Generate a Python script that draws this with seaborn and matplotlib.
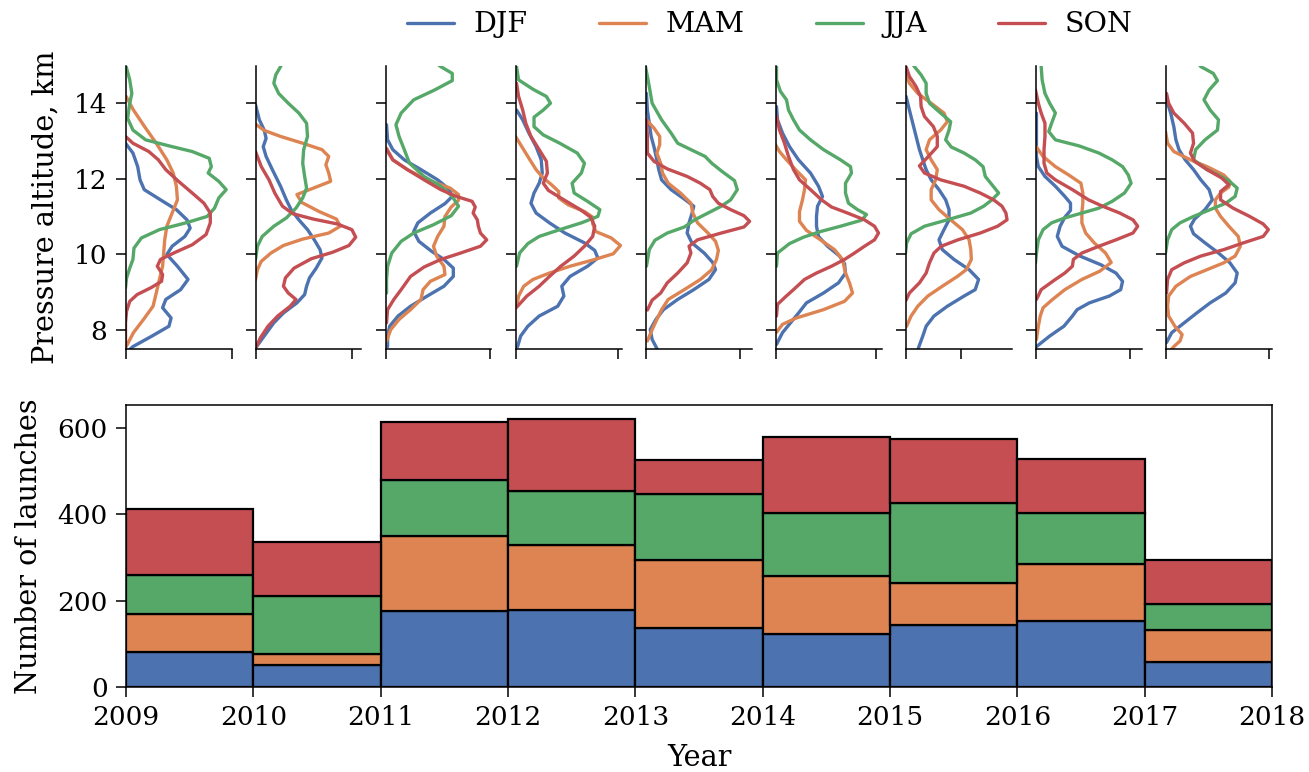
import numpy as np
import pandas as pd
import matplotlib
matplotlib.use("Agg")
import matplotlib.pyplot as plt
import seaborn as sns

# ---------------- data ----------------
seasons = ["DJF", "MAM", "JJA", "SON"]
years = [2009, 2010, 2011, 2012, 2013, 2014, 2015, 2016, 2017]
year_ticks = [2009, 2010, 2011, 2012, 2013, 2014, 2015, 2016, 2017, 2018]

launches_DJF = [81, 52, 176, 178, 137, 123, 143, 153, 58]
launches_MAM = [87, 25, 174, 151, 156, 133, 97, 132, 74]
launches_JJA = [91, 134, 130, 124, 154, 147, 187, 118, 60]
launches_SON = [154, 124, 134, 168, 78, 177, 147, 124, 102]

# KDE curves: (pressure altitude km, density)
kde_2009_DJF = [(12.94,0.0),(12.68,0.07),(12.32,0.115),(11.97,0.137),(11.71,0.177),(11.44,0.33),(11.18,0.48),(10.91,0.58),(10.69,0.61),(10.47,0.56),(10.21,0.44),(9.99,0.39),(9.68,0.49),(9.33,0.59),(9.06,0.52),(8.80,0.38),(8.58,0.35),(8.31,0.43),(8.09,0.41),(7.83,0.25),(7.55,0.07),(7.45,0.03)]
kde_2009_MAM = [(14.18,0.006),(13.82,0.075),(13.38,0.18),(12.94,0.29),(12.50,0.39),(12.15,0.45),(11.80,0.48),(11.44,0.49),(11.09,0.44),(10.74,0.39),(10.38,0.37),(10.03,0.36),(9.68,0.35),(9.33,0.32),(8.97,0.29),(8.62,0.26),(8.27,0.17),(7.92,0.075),(7.55,0.006)]
kde_2009_JJA = [(15.1,0.0),(14.97,0.006),(14.62,0.04),(14.26,0.06),(14.0,0.04),(13.6,0.02),(13.29,0.07),(13.03,0.19),(12.87,0.41),(12.72,0.63),(12.54,0.79),(12.32,0.81),(12.15,0.78),(11.93,0.88),(11.71,0.95),(11.49,0.88),(11.22,0.84),(11.0,0.77),(10.83,0.57),(10.65,0.32),(10.43,0.15),(10.16,0.08),(9.86,0.07),(9.63,0.04),(9.37,0.01),(9.11,0.0)]
kde_2009_SON = [(13.12,0.0),(12.94,0.07),(12.72,0.22),(12.50,0.31),(12.24,0.38),(11.93,0.50),(11.62,0.63),(11.35,0.74),(11.09,0.80),(10.83,0.80),(10.52,0.76),(10.25,0.63),(10.05,0.47),(9.86,0.33),(9.68,0.30),(9.46,0.35),(9.28,0.34),(9.11,0.24),(8.93,0.11),(8.75,0.04),(8.49,0.01),(8.18,0.0),(7.4,0.0)]

kde_2010_DJF = [(13.96,0.0),(13.56,0.04),(13.29,0.09),(13.07,0.11),(12.85,0.08),(12.59,0.11),(12.24,0.175),(11.80,0.26),(11.44,0.32),(11.18,0.37),(10.91,0.45),(10.65,0.54),(10.38,0.61),(10.12,0.67),(9.90,0.69),(9.63,0.63),(9.37,0.56),(9.15,0.53),(8.93,0.51),(8.71,0.43),(8.44,0.29),(8.18,0.19),(7.83,0.09),(7.55,0.01)]
kde_2010_MAM = [(13.43,0.01),(13.28,0.09),(13.12,0.26),(12.94,0.49),(12.77,0.69),(12.59,0.76),(12.37,0.73),(12.15,0.76),(11.93,0.78),(11.75,0.60),(11.58,0.43),(11.37,0.48),(11.13,0.66),(10.93,0.84),(10.74,0.88),(10.56,0.76),(10.40,0.49),(10.23,0.29),(10.03,0.16),(9.81,0.06),(9.59,0.02),(9.33,0.0)]
kde_2010_JJA = [(15.1,0.28),(14.97,0.26),(14.75,0.21),(14.53,0.19),(14.26,0.24),(14.0,0.34),(13.74,0.45),(13.47,0.53),(13.12,0.54),(12.77,0.50),(12.41,0.49),(12.06,0.51),(11.75,0.53),(11.49,0.49),(11.22,0.42),(10.96,0.32),(10.74,0.19),(10.47,0.07),(10.21,0.02),(9.86,0.0)]
kde_2010_SON = [(12.72,0.0),(12.32,0.06),(11.97,0.14),(11.62,0.20),(11.27,0.28),(11.07,0.39),(10.93,0.60),(10.80,0.85),(10.65,1.00),(10.45,1.04),(10.23,0.97),(10.05,0.80),(9.88,0.58),(9.63,0.40),(9.37,0.31),(9.15,0.29),(8.97,0.34),(8.80,0.42),(8.62,0.36),(8.36,0.23),(8.09,0.13),(7.78,0.05),(7.55,0.01)]

kde_2011_DJF = [(13.43,0.01),(13.03,0.02),(12.77,0.07),(12.50,0.18),(12.24,0.34),(11.97,0.50),(11.72,0.61),(11.53,0.64),(11.34,0.57),(11.09,0.43),(10.83,0.31),(10.60,0.27),(10.34,0.32),(10.08,0.44),(9.86,0.56),(9.63,0.65),(9.41,0.65),(9.15,0.56),(8.89,0.40),(8.62,0.24),(8.36,0.12),(8.09,0.04),(7.83,0.02),(7.55,0.02)]
kde_2011_MAM = [(12.81,0.01),(12.50,0.07),(12.24,0.21),(11.97,0.40),(11.75,0.62),(11.58,0.70),(11.43,0.70),(11.25,0.63),(11.0,0.57),(10.74,0.56),(10.47,0.50),(10.21,0.46),(9.95,0.49),(9.68,0.56),(9.46,0.57),(9.28,0.43),(9.06,0.36),(8.80,0.34),(8.53,0.24),(8.27,0.13),(8.0,0.05),(7.70,0.01)]
kde_2011_JJA = [(15.1,0.47),(14.97,0.53),(14.79,0.64),(14.60,0.64),(14.35,0.47),(14.09,0.27),(13.74,0.15),(13.43,0.10),(13.12,0.13),(12.77,0.18),(12.41,0.23),(12.06,0.37),(11.80,0.53),(11.53,0.64),(11.27,0.70),(11.02,0.63),(10.78,0.46),(10.56,0.27),(10.34,0.15),(10.03,0.06),(9.68,0.02),(9.33,0.01),(8.97,0.01)]
kde_2011_SON = [(12.77,0.01),(12.50,0.07),(12.24,0.21),(11.97,0.37),(11.71,0.53),(11.53,0.68),(11.40,0.83),(11.25,0.86),(11.09,0.84),(10.91,0.88),(10.74,0.89),(10.56,0.91),(10.38,0.97),(10.21,0.91),(10.03,0.72),(9.86,0.53),(9.66,0.37),(9.41,0.24),(9.06,0.15),(8.80,0.08),(8.53,0.02),(8.18,0.01)]

kde_2012_DJF = [(13.82,0.01),(13.56,0.07),(13.21,0.13),(12.85,0.20),(12.50,0.25),(12.15,0.26),(11.88,0.23),(11.62,0.18),(11.35,0.15),(11.09,0.20),(10.83,0.33),(10.56,0.48),(10.30,0.67),(10.10,0.77),(9.90,0.80),(9.68,0.70),(9.41,0.53),(9.15,0.45),(8.89,0.47),(8.62,0.41),(8.36,0.23),(8.09,0.12),(7.83,0.05),(7.55,0.02)]
kde_2012_MAM = [(13.12,0.0),(12.81,0.07),(12.50,0.14),(12.24,0.20),(12.02,0.27),(11.84,0.35),(11.66,0.42),(11.49,0.42),(11.31,0.51),(11.13,0.67),(10.98,0.75),(10.81,0.75),(10.60,0.78),(10.43,0.93),(10.23,1.02),(10.01,0.95),(9.86,0.77),(9.68,0.53),(9.50,0.33),(9.33,0.17),(9.15,0.08),(8.89,0.03),(8.58,0.01)]
kde_2012_JJA = [(15.1,0.0),(14.97,0.01),(14.62,0.03),(14.37,0.17),(14.18,0.30),(14.0,0.34),(13.82,0.27),(13.63,0.18),(13.38,0.18),(13.16,0.27),(12.94,0.43),(12.68,0.60),(12.41,0.67),(12.15,0.64),(11.88,0.55),(11.62,0.57),(11.40,0.70),(11.18,0.82),(11.0,0.80),(10.83,0.64),(10.65,0.43),(10.47,0.23),(10.28,0.12),(10.03,0.04),(9.68,0.01)]
kde_2012_SON = [(14.53,0.01),(14.18,0.03),(13.82,0.07),(13.47,0.10),(13.12,0.15),(12.77,0.23),(12.46,0.30),(12.15,0.31),(11.88,0.27),(11.69,0.32),(11.44,0.47),(11.18,0.63),(10.98,0.73),(10.74,0.77),(10.47,0.75),(10.21,0.67),(9.95,0.57),(9.68,0.44),(9.41,0.33),(9.15,0.23),(8.89,0.11),(8.62,0.02)]

kde_2013_DJF = [(14.26,0.01),(13.82,0.02),(13.47,0.04),(13.12,0.06),(12.84,0.09),(12.50,0.12),(12.24,0.14),(11.97,0.17),(11.71,0.27),(11.46,0.41),(11.27,0.51),(11.07,0.49),(10.83,0.46),(10.56,0.44),(10.30,0.49),(10.03,0.62),(9.78,0.71),(9.59,0.74),(9.33,0.67),(9.06,0.51),(8.80,0.34),(8.53,0.19),(8.27,0.11),(8.0,0.05),(7.74,0.07),(7.55,0.11),(7.45,0.13)]
kde_2013_MAM = [(13.56,0.01),(13.34,0.09),(13.12,0.15),(12.90,0.15),(12.68,0.12),(12.41,0.16),(12.15,0.18),(11.88,0.24),(11.62,0.37),(11.35,0.48),(11.09,0.50),(10.83,0.55),(10.56,0.66),(10.34,0.74),(10.10,0.77),(9.86,0.75),(9.59,0.70),(9.33,0.58),(9.06,0.41),(8.80,0.24),(8.53,0.17),(8.27,0.12),(8.0,0.07),(7.70,0.02)]
kde_2013_JJA = [(15.1,0.0),(14.97,0.0),(14.44,0.04),(14.0,0.07),(13.56,0.17),(13.21,0.27),(12.94,0.34),(12.77,0.48),(12.59,0.63),(12.41,0.70),(12.19,0.81),(11.95,0.94),(11.71,0.97),(11.44,0.90),(11.27,0.80),(11.09,0.66),(10.91,0.52),(10.72,0.41),(10.56,0.23),(10.37,0.10),(10.12,0.04),(9.68,0.01)]
kde_2013_SON = [(13.56,0.01),(13.12,0.02),(12.68,0.02),(12.46,0.09),(12.26,0.23),(12.06,0.44),(11.88,0.58),(11.71,0.68),(11.53,0.71),(11.35,0.77),(11.18,0.90),(11.02,1.04),(10.87,1.10),(10.72,1.04),(10.56,0.80),(10.38,0.55),(10.21,0.46),(10.03,0.48),(9.77,0.44),(9.50,0.34),(9.24,0.23),(8.97,0.16),(8.78,0.07),(8.52,0.02)]

kde_2014_DJF = [(13.91,0.01),(13.56,0.02),(13.21,0.07),(12.85,0.14),(12.50,0.23),(12.15,0.35),(11.80,0.43),(11.53,0.47),(11.27,0.42),(11.0,0.41),(10.74,0.41),(10.47,0.43),(10.21,0.52),(9.95,0.64),(9.75,0.69),(9.50,0.70),(9.24,0.63),(8.97,0.48),(8.71,0.31),(8.44,0.23),(8.18,0.15),(7.92,0.07),(7.61,0.01)]
kde_2014_MAM = [(12.90,0.0),(12.72,0.04),(12.50,0.11),(12.24,0.20),(11.97,0.30),(11.71,0.29),(11.44,0.27),(11.13,0.24),(10.87,0.24),(10.63,0.31),(10.38,0.45),(10.12,0.59),(9.86,0.67),(9.50,0.70),(9.24,0.74),(8.97,0.77),(8.75,0.69),(8.53,0.48),(8.31,0.21),(8.14,0.07),(7.93,0.01)]
kde_2014_JJA = [(15.1,0.01),(14.97,0.01),(14.62,0.01),(14.31,0.05),(14.09,0.11),(13.82,0.13),(13.56,0.18),(13.29,0.24),(13.03,0.35),(12.77,0.48),(12.50,0.65),(12.32,0.75),(12.15,0.76),(11.88,0.70),(11.62,0.70),(11.35,0.73),(11.18,0.82),(11.05,0.91),(10.90,0.86),(10.74,0.65),(10.60,0.45),(10.45,0.28),(10.28,0.14),(10.03,0.02),(9.68,0.01)]
kde_2014_SON = [(13.65,0.01),(13.29,0.04),(12.94,0.09),(12.59,0.13),(12.24,0.18),(11.97,0.24),(11.71,0.35),(11.44,0.46),(11.25,0.56),(11.09,0.72),(10.91,0.89),(10.74,0.99),(10.56,1.03),(10.38,0.99),(10.21,0.89),(10.03,0.79),(9.86,0.69),(9.68,0.56),(9.50,0.41),(9.33,0.29),(9.06,0.18),(8.87,0.10),(8.67,0.02),(8.36,0.01)]

kde_2015_DJF = [(14.18,0.01),(13.82,0.07),(13.47,0.13),(13.12,0.19),(12.77,0.25),(12.50,0.31),(12.24,0.37),(11.97,0.46),(11.71,0.60),(11.44,0.72),(11.18,0.78),(10.91,0.78),(10.65,0.69),(10.38,0.60),(10.12,0.66),(9.86,0.87),(9.59,1.14),(9.33,1.31),(9.06,1.25),(8.89,1.05),(8.62,0.75),(8.36,0.51),(8.09,0.37),(7.83,0.31),(7.55,0.24),(7.45,0.22)]
kde_2015_MAM = [(14.79,0.01),(14.53,0.07),(14.26,0.22),(14.0,0.46),(13.74,0.69),(13.51,0.75),(13.29,0.63),(13.03,0.43),(12.77,0.37),(12.50,0.46),(12.24,0.57),(11.97,0.54),(11.71,0.46),(11.44,0.46),(11.18,0.60),(10.91,0.81),(10.65,1.02),(10.38,1.14),(10.12,1.17),(9.86,1.18),(9.59,1.09),(9.41,0.93),(9.15,0.66),(8.89,0.40),(8.62,0.22),(8.36,0.10),(8.09,0.02)]
kde_2015_JJA = [(15.1,0.10),(14.97,0.16),(14.75,0.28),(14.53,0.37),(14.26,0.37),(14.0,0.43),(13.74,0.63),(13.51,0.81),(13.29,0.78),(13.03,0.72),(12.84,0.82),(12.68,1.05),(12.50,1.25),(12.32,1.39),(12.06,1.43),(11.84,1.55),(11.62,1.67),(11.44,1.55),(11.27,1.40),(11.09,1.17),(10.91,0.75),(10.74,0.34),(10.54,0.10),(10.30,0.02),(10.03,0.0)]
kde_2015_SON = [(15.1,0.0),(14.97,0.01),(14.71,0.07),(14.44,0.19),(14.18,0.27),(13.91,0.28),(13.65,0.34),(13.38,0.50),(13.12,0.57),(12.85,0.57),(12.59,0.41),(12.34,0.25),(12.15,0.34),(11.97,0.63),(11.80,1.05),(11.62,1.34),(11.44,1.58),(11.27,1.73),(11.09,1.80),(10.91,1.82),(10.74,1.65),(10.56,1.34),(10.38,0.94),(10.21,0.64),(10.03,0.51),(9.77,0.43),(9.50,0.37),(9.24,0.25),(8.97,0.07),(8.78,0.01)]

kde_2016_DJF = [(13.74,0.01),(13.21,0.01),(12.59,0.01),(12.32,0.03),(12.06,0.10),(11.80,0.21),(11.53,0.31),(11.35,0.37),(11.16,0.37),(10.98,0.31),(10.74,0.26),(10.47,0.23),(10.21,0.28),(9.96,0.46),(9.72,0.69),(9.50,0.85),(9.28,0.92),(9.06,0.90),(8.89,0.78),(8.71,0.57),(8.53,0.44),(8.36,0.39),(8.09,0.30),(7.83,0.15),(7.55,0.01)]
kde_2016_MAM = [(12.84,0.01),(12.59,0.08),(12.32,0.21),(12.10,0.35),(11.88,0.48),(11.62,0.50),(11.35,0.50),(11.09,0.49),(10.83,0.49),(10.56,0.53),(10.30,0.62),(10.03,0.74),(9.78,0.80),(9.55,0.68),(9.33,0.49),(9.06,0.31),(8.80,0.18),(8.58,0.08),(8.36,0.05),(8.09,0.03),(7.74,0.01)]
kde_2016_JJA = [(15.1,0.06),(14.97,0.06),(14.62,0.07),(14.26,0.10),(14.0,0.15),(13.74,0.21),(13.47,0.17),(13.25,0.14),(13.03,0.21),(12.87,0.46),(12.68,0.67),(12.50,0.81),(12.32,0.92),(12.10,0.98),(11.88,1.01),(11.62,0.94),(11.40,0.81),(11.22,0.67),(11.09,0.49),(10.96,0.31),(10.83,0.17),(10.65,0.08),(10.38,0.03),(10.03,0.01),(9.77,0.0)]
kde_2016_SON = [(14.35,0.0),(14.0,0.03),(13.74,0.06),(13.47,0.10),(13.12,0.10),(12.77,0.09),(12.41,0.09),(12.15,0.12),(11.97,0.21),(11.71,0.39),(11.44,0.56),(11.27,0.71),(11.09,0.89),(10.91,1.03),(10.74,1.08),(10.56,1.03),(10.38,0.85),(10.21,0.67),(10.03,0.49),(9.86,0.40),(9.68,0.39),(9.50,0.31),(9.33,0.21),(9.06,0.06),(8.80,0.01)]

kde_2017_DJF = [(14.09,0.01),(13.74,0.05),(13.38,0.08),(13.03,0.10),(12.77,0.13),(12.50,0.19),(12.24,0.27),(11.97,0.34),(11.71,0.42),(11.44,0.45),(11.18,0.38),(10.93,0.28),(10.74,0.24),(10.54,0.27),(10.30,0.38),(10.03,0.51),(9.77,0.62),(9.50,0.69),(9.24,0.67),(8.97,0.58),(8.71,0.43),(8.44,0.30),(8.18,0.18),(7.92,0.06),(7.66,0.01)]
kde_2017_MAM = [(13.25,0.0),(12.94,0.02),(12.72,0.08),(12.50,0.24),(12.32,0.40),(12.10,0.56),(11.93,0.62),(11.78,0.61),(11.62,0.53),(11.44,0.48),(11.22,0.48),(11.0,0.53),(10.74,0.61),(10.47,0.70),(10.21,0.72),(9.95,0.67),(9.77,0.56),(9.59,0.40),(9.41,0.24),(9.15,0.10),(8.89,0.03),(8.62,0.02),(8.36,0.03),(8.09,0.09),(7.87,0.16),(7.70,0.14),(7.55,0.08),(7.45,0.05)]
kde_2017_JJA = [(15.1,0.30),(14.97,0.34),(14.79,0.46),(14.60,0.50),(14.35,0.42),(14.09,0.37),(13.82,0.43),(13.56,0.51),(13.29,0.50),(13.03,0.38),(12.77,0.29),(12.50,0.27),(12.24,0.40),(11.97,0.60),(11.75,0.69),(11.53,0.67),(11.35,0.58),(11.18,0.43),(11.0,0.27),(10.83,0.14),(10.65,0.06),(10.38,0.02),(10.03,0.0)]
kde_2017_SON = [(14.26,0.01),(14.0,0.03),(13.74,0.08),(13.47,0.18),(13.21,0.26),(12.94,0.27),(12.68,0.24),(12.46,0.28),(12.24,0.40),(12.02,0.54),(11.84,0.61),(11.66,0.53),(11.44,0.53),(11.22,0.65),(11.0,0.81),(10.80,0.94),(10.65,0.99),(10.47,0.94),(10.30,0.75),(10.12,0.56),(9.95,0.34),(9.77,0.18),(9.59,0.06),(9.33,0.02),(8.97,0.01)]

# per-panel density axis extent
density_xmax = [1.0, 1.10, 1.016, 1.03, 1.12, 1.06, 1.9, 1.12, 1.02]

# ---------------- tables ----------------
g = globals()
kde_rows = []
for yr in years:
    for s in seasons:
        for k, (alt, den) in enumerate(g[f"kde_{yr}_{s}"]):
            kde_rows.append({"year": yr, "season": s, "alt": alt, "density": den, "k": k})
kde_df = pd.DataFrame(kde_rows)

launch_counts = {"DJF": launches_DJF, "MAM": launches_MAM, "JJA": launches_JJA, "SON": launches_SON}
bar_rows = []
for s in seasons:
    for yr, c in zip(years, launch_counts[s]):
        bar_rows.append({"year": yr, "season": s, "count": c})
bar_df = pd.DataFrame(bar_rows)

# ---------------- style ----------------
sns.set_theme(style="ticks", palette="deep")
plt.rcParams["font.family"] = ["DejaVu Serif"]
tick_fs = 19
label_fs = 20.7
plt.rcParams.update({
    "font.size": label_fs, "axes.labelsize": label_fs,
    "xtick.labelsize": tick_fs, "ytick.labelsize": tick_fs,
    "legend.fontsize": 20.5, "axes.linewidth": 1.1,
    "xtick.major.width": 1.1, "ytick.major.width": 1.1,
    "xtick.major.size": 7, "ytick.major.size": 7,
    "xtick.major.pad": 6, "ytick.major.pad": 6,
    "axes.edgecolor": "black", "xtick.color": "black", "ytick.color": "black",
    "text.color": "black", "axes.labelcolor": "black",
})
palette = dict(zip(seasons, sns.color_palette("deep", 4)))

W, H = 1309, 772
fig = plt.figure(figsize=(W / 100, H / 100), dpi=100)

# ---------------- top KDE panels ----------------
top_bottom = (H - 348.5) / H
top_height = (348.5 - 65.5) / H
handles = labels = None
for i, yr in enumerate(years):
    ax = fig.add_axes([(125.5 + i * 130.0) / W, top_bottom, 106 / W, top_height])
    sub = kde_df[kde_df["year"] == yr].sort_values(["season", "k"])
    sns.lineplot(data=sub, x="density", y="alt", hue="season", hue_order=seasons,
                 palette=palette, sort=False, estimator=None, units="season",
                 lw=2.4, legend=(i == 0), ax=ax, solid_joinstyle="round",
                 solid_capstyle="round")
    if i == 0:
        handles, labels = ax.get_legend_handles_labels()
        ax.get_legend().remove()
        ax.set_ylabel("Pressure altitude, km", labelpad=10.5)
    else:
        ax.set_ylabel("")
    ax.set_ylim(7.5, 15)
    ax.set_yticks([8, 10, 12, 14])
    if i == 0:
        ax.set_yticklabels(["8", "10", "12", "14"])
    else:
        ax.set_yticklabels([])
    ax.set_xlim(0, density_xmax[i])
    ax.set_xticks([0, 1])
    ax.set_xticklabels([])
    ax.set_xlabel("")
    sns.despine(ax=ax)

leg = fig.legend(handles, labels, loc="center", bbox_to_anchor=(0.588, 1 - 25 / H),
                 ncol=4, frameon=False, columnspacing=2.5, handlelength=1.65,
                 handletextpad=0.7)
for h in leg.legend_handles:
    h.set_linewidth(2.4)

# ---------------- bottom stacked histogram ----------------
axb = fig.add_axes([126 / W, 85 / H, 1146 / W, 282 / H])
sns.histplot(data=bar_df, x="year", weights="count", hue="season",
             hue_order=seasons[::-1], palette=palette, multiple="stack",
             bins=year_ticks, edgecolor="black", linewidth=1.6, alpha=1,
             legend=False, ax=axb)
axb.set_xlim(2009, 2018)
axb.set_ylim(0, 653)
axb.set_xticks(year_ticks)
axb.set_yticks([0, 200, 400, 600])
axb.set_xlabel("Year", labelpad=10)
axb.set_ylabel("Number of launches", labelpad=10.5)

fig.savefig("out.png", dpi=100)
